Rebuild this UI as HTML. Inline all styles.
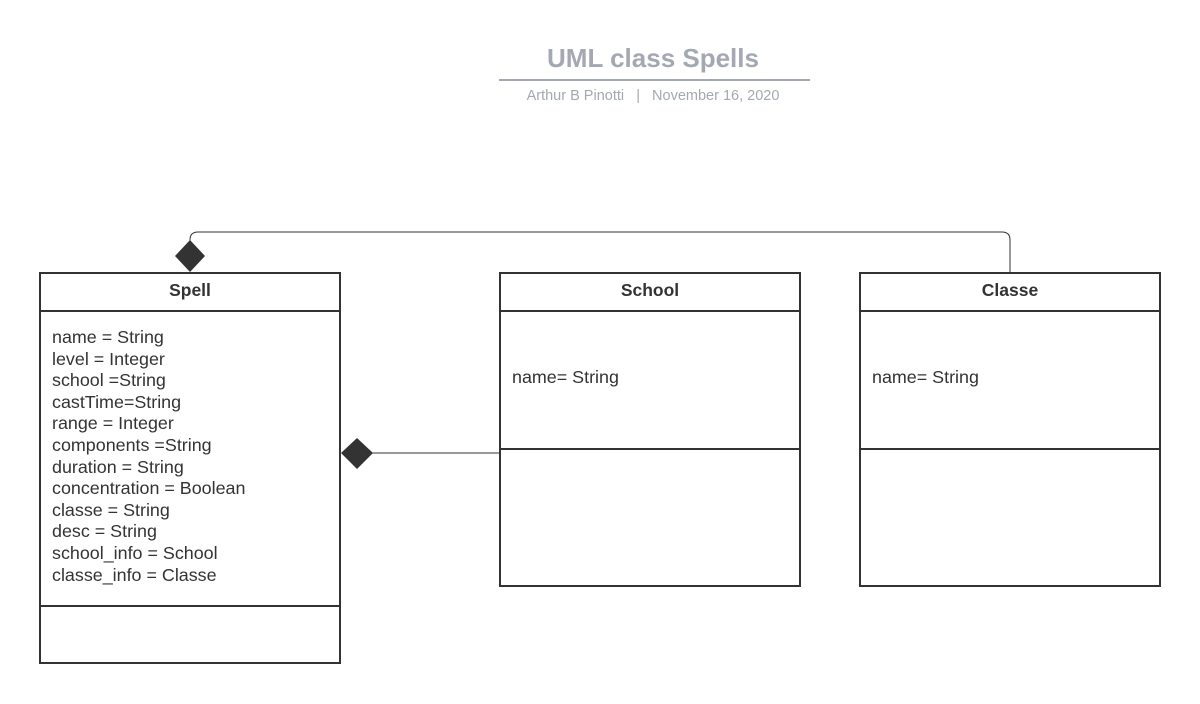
<!DOCTYPE html>
<html><head><meta charset="utf-8"><style>
html,body{margin:0;padding:0;background:#fff;}
svg{display:block;font-family:"Liberation Sans",Arial,sans-serif;}
</style></head><body>
<svg width="1200" height="704" viewBox="0 0 1200 704" xmlns="http://www.w3.org/2000/svg">
<text x="653" y="67" text-anchor="middle" font-size="26" font-weight="bold" fill="#a3a8b3">UML class Spells</text>
<line x1="499" y1="80" x2="810" y2="80" stroke="#a3a8b3" stroke-width="2"/>
<text x="653" y="100" text-anchor="middle" font-size="14.5" fill="#a3a8b3" xml:space="preserve">Arthur B Pinotti  &#160;|&#160;  November 16, 2020</text>

<path d="M190 241 L190 240 Q190 232 198 232 L1002 232 Q1010 232 1010 240 L1010 272" fill="none" stroke="#333" stroke-width="1"/>
<polygon points="190,240 205,256 190,272 175,256" fill="#333"/>
<line x1="372" y1="453" x2="500" y2="453" stroke="#333" stroke-width="1"/>
<polygon points="341,453 357,438 373,453 357,469" fill="#333"/>

<g fill="#fff" stroke="#333" stroke-width="2">
<rect x="40" y="273" width="300" height="390"/>
<line x1="40" y1="311" x2="340" y2="311"/>
<line x1="40" y1="606" x2="340" y2="606"/>
<rect x="500" y="273" width="300" height="313"/>
<line x1="500" y1="311" x2="800" y2="311"/>
<line x1="500" y1="449" x2="800" y2="449"/>
<rect x="860" y="273" width="300" height="313"/>
<line x1="860" y1="311" x2="1160" y2="311"/>
<line x1="860" y1="449" x2="1160" y2="449"/>
</g>
<g font-size="17.5" font-weight="bold" fill="#333" text-anchor="middle">
<text x="190" y="296">Spell</text>
<text x="650" y="296">School</text>
<text x="1010" y="296">Classe</text>
</g>
<g font-size="17.9" fill="#333">
<text x="52" y="343">name = String</text>
<text x="52" y="365">level = Integer</text>
<text x="52" y="386">school =String</text>
<text x="52" y="408">castTime=String</text>
<text x="52" y="429">range = Integer</text>
<text x="52" y="451">components =String</text>
<text x="52" y="473">duration = String</text>
<text x="52" y="494">concentration = Boolean</text>
<text x="52" y="516">classe = String</text>
<text x="52" y="537">desc = String</text>
<text x="52" y="559">school_info = School</text>
<text x="52" y="581">classe_info = Classe</text>
<text x="512" y="383">name= String</text>
<text x="872" y="383">name= String</text>
</g>
</svg>
</body></html>
